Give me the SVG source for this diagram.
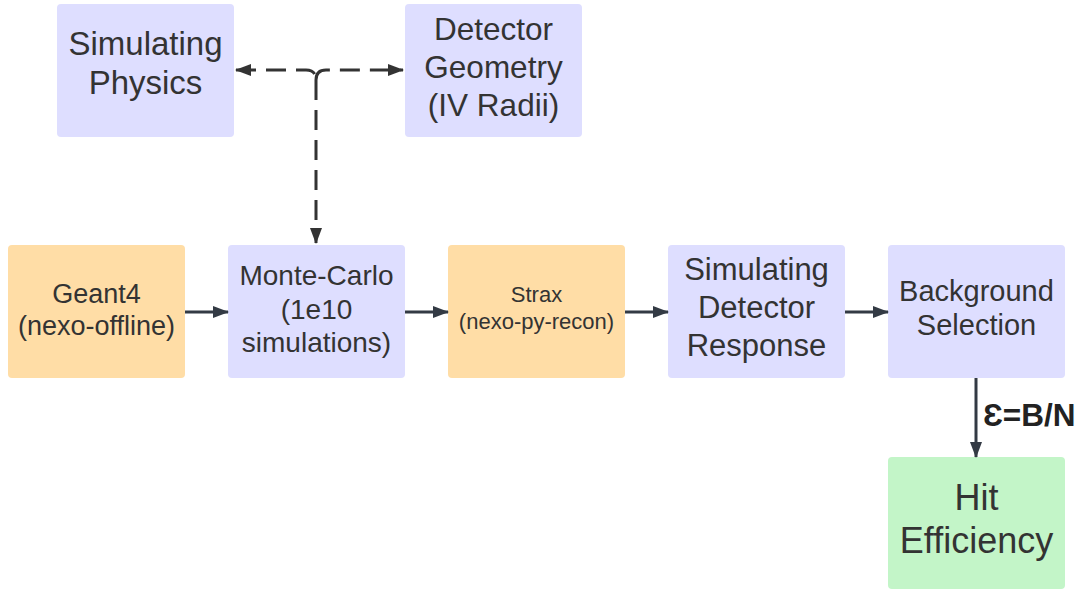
<svg xmlns="http://www.w3.org/2000/svg" width="1089" height="592" viewBox="0 0 1089 592">
<style>
.b{fill:#dedeff}
.o{fill:#ffdda6}
.g{fill:#c3f5c8}
text{font-family:"Liberation Sans",Arial,sans-serif;fill:#333333;text-anchor:middle;dominant-baseline:central}
.c{stroke:#333a44;stroke-width:3;fill:none}
.d{stroke:#333333;stroke-width:3;fill:none;stroke-dasharray:20 10}
</style>
<defs>
<marker id="a" markerWidth="16" markerHeight="12" refX="15" refY="6" orient="auto" markerUnits="userSpaceOnUse"><path d="M0,0 L16,6 L0,12 Z" fill="#333a44"/></marker>
<marker id="ad" markerWidth="16" markerHeight="12" refX="15" refY="6" orient="auto-start-reverse" markerUnits="userSpaceOnUse"><path d="M0,0 L16,6 L0,12 Z" fill="#333333"/></marker>
</defs>
<g id="simphys"><rect class="b" x="57" y="4" width="177" height="133" rx="4"/><text x="145.5" y="43.5" font-size="33">Simulating</text><text x="145.5" y="82.5" font-size="33">Physics</text></g>
<g id="detgeo"><rect class="b" x="405" y="4" width="177" height="133" rx="4"/><text x="493.5" y="29" font-size="31.5">Detector</text><text x="493.5" y="67" font-size="31.5">Geometry</text><text x="493.5" y="105" font-size="31.5">(IV Radii)</text></g>
<g id="geant4"><rect class="o" x="8" y="245" width="177" height="133" rx="4"/><text x="96.5" y="293.5" font-size="27">Geant4</text><text x="96.5" y="325.5" font-size="27">(nexo-offline)</text></g>
<g id="mc"><rect class="b" x="228" y="245" width="177" height="133" rx="4"/><text x="316.5" y="275.5" font-size="28">Monte-Carlo</text><text x="316.5" y="309.5" font-size="28">(1e10</text><text x="316.5" y="342.5" font-size="28">simulations)</text></g>
<g id="strax"><rect class="o" x="448" y="245" width="177" height="133" rx="4"/><text x="536.5" y="294.5" font-size="22">Strax</text><text x="536.5" y="321.5" font-size="22">(nexo-py-recon)</text></g>
<g id="sdr"><rect class="b" x="668" y="245" width="177" height="133" rx="4"/><text x="756.5" y="269.5" font-size="31">Simulating</text><text x="756.5" y="307.5" font-size="31">Detector</text><text x="756.5" y="345.5" font-size="31">Response</text></g>
<g id="bgsel"><rect class="b" x="888" y="245" width="177" height="133" rx="4"/><text x="976.5" y="290.5" font-size="29">Background</text><text x="976.5" y="324.5" font-size="29">Selection</text></g>
<g id="hiteff"><rect class="g" x="888" y="457" width="177" height="132" rx="4"/><text x="976.5" y="497.5" font-size="36">Hit</text><text x="976.5" y="540.5" font-size="36">Efficiency</text></g>
<g id="connectors">
<path class="d" d="M236,70 H306 Q316,70 316,80 M316,80 Q316,70 326,70 H403" marker-start="url(#ad)" marker-end="url(#ad)"/>
<path class="d" d="M316,80 V243" marker-end="url(#ad)" stroke-dasharray="8 12 20 10 20 10 20 10 20 10 20 10 40"/>
<path class="c" d="M185,312 H228" marker-end="url(#a)"/>
<path class="c" d="M405,312 H448" marker-end="url(#a)"/>
<path class="c" d="M625,312 H668" marker-end="url(#a)"/>
<path class="c" d="M845,312 H888" marker-end="url(#a)"/>
<path class="c" d="M976,378 V457" marker-end="url(#a)"/>
<text x="983" y="415" font-size="31.5" font-weight="bold" style="text-anchor:start;fill:#222222">Ɛ=B/N</text>
</g>
</svg>
